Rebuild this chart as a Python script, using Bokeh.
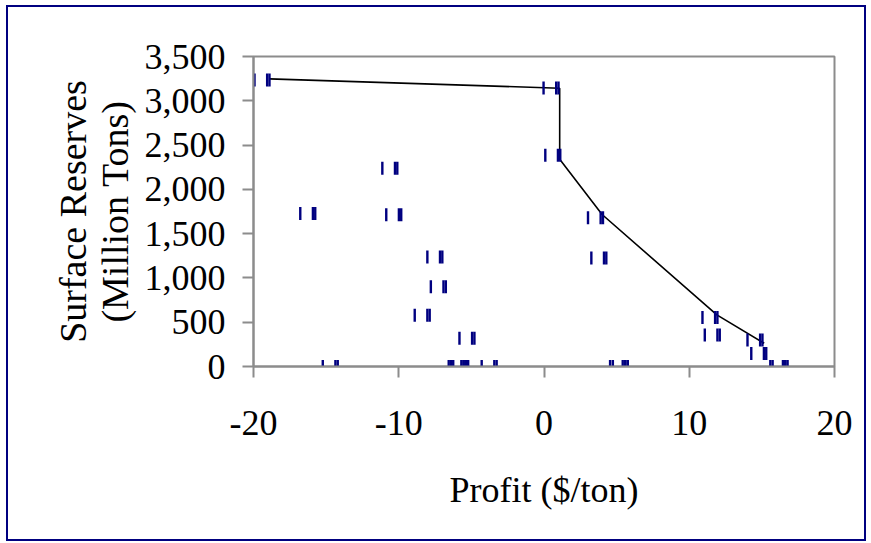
import math
from bokeh.plotting import figure
from bokeh.models import (Range1d, NumeralTickFormatter, FixedTicker, ColumnDataSource,
                          PrintfTickFormatter)
from bokeh.transform import dodge
from bokeh.embed import file_html
from bokeh.resources import INLINE

# Points (profit $/ton, surface reserves million tons)
profit = [-18.9, 1.0, 1.12, -10.1, -15.75, -9.83, -7.0, -6.76, -7.87, -4.79,
          4.06, 4.29, 11.94, 12.1, 15.04, 15.3,
          -14.2, -5.53, -5.38, -5.22, -3.26, 5.58, 5.77, 16.61, 16.77]
reserves = [3235, 3145, 2385, 2238, 1728, 1713, 1235, 900, 579, 319,
            1679, 1226, 552, 356, 299, 148,
            0, 0, 0, 0, 0, 0, 0, 0, 0]

# Envelope line
line_profit = [-18.9, 1.08, 1.08, 4.0, 11.9, 15.16]
line_reserves = [3247, 3142, 2340, 1716, 583, 262]

x_ticks = [-20, -10, 0, 10, 20]
y_ticks = [0, 500, 1000, 1500, 2000, 2500, 3000, 3500]
x_title = "Profit ($/ton)"
y_title = "Surface Reserves\n(Million Tons)"

FONT = "Liberation Serif"
NAVY = "#000080"
GREY = "#8c8c8c"

p = figure(width=860, height=536, output_backend="svg", toolbar_location=None,
           x_range=Range1d(-20, 20), y_range=Range1d(0, 3500))
p.min_border_left = 245
p.min_border_right = 34
p.min_border_top = 49
p.min_border_bottom = 177
p.styles = {"border": "2px solid #000080", "margin-left": "6px", "margin-top": "5px"}

p.grid.visible = False
p.outline_line_color = GREY
p.outline_line_width = 2
p.background_fill_color = "white"
p.border_fill_color = "white"

src = ColumnDataSource(dict(x=profit, y=reserves))

p.line(line_profit, line_reserves, line_color="black", line_width=1.6)

for off in [-1.03, -0.16, 0.0]:
    p.scatter(x=dodge("x", off, range=p.x_range), y="y", source=src,
              marker="dash", angle=math.pi / 2, size=13,
              line_color=NAVY, line_width=2.4, fill_color=NAVY)

for ax in (p.xaxis[0], p.yaxis[0]):
    ax.axis_line_color = GREY
    ax.axis_line_width = 2
    ax.major_tick_line_color = GREY
    ax.major_tick_line_width = 2
    ax.major_tick_out = 11
    ax.major_tick_in = 0
    ax.minor_tick_line_color = None
    ax.major_label_text_font = FONT
    ax.major_label_text_font_size = "36px"
    ax.major_label_text_color = "black"
    ax.axis_label_text_font = FONT
    ax.axis_label_text_font_style = "normal"
    ax.axis_label_text_color = "black"

p.xaxis.ticker = FixedTicker(ticks=x_ticks)
p.yaxis.ticker = FixedTicker(ticks=y_ticks)
p.xaxis.formatter = PrintfTickFormatter(format="%d")
p.yaxis.formatter = NumeralTickFormatter(format="0,0")
p.xaxis.major_label_standoff = 33
p.yaxis.major_label_standoff = 17

p.yaxis.axis_label = y_title
p.yaxis.axis_label_text_font_size = "38px"
p.yaxis.axis_label_text_line_height = 1.0
p.yaxis.axis_label_standoff = 6

p.xaxis.axis_label = x_title
p.xaxis.axis_label_text_font_size = "36px"
p.xaxis.axis_label_standoff = 32

open("out.html", "w").write(file_html(p, INLINE))
